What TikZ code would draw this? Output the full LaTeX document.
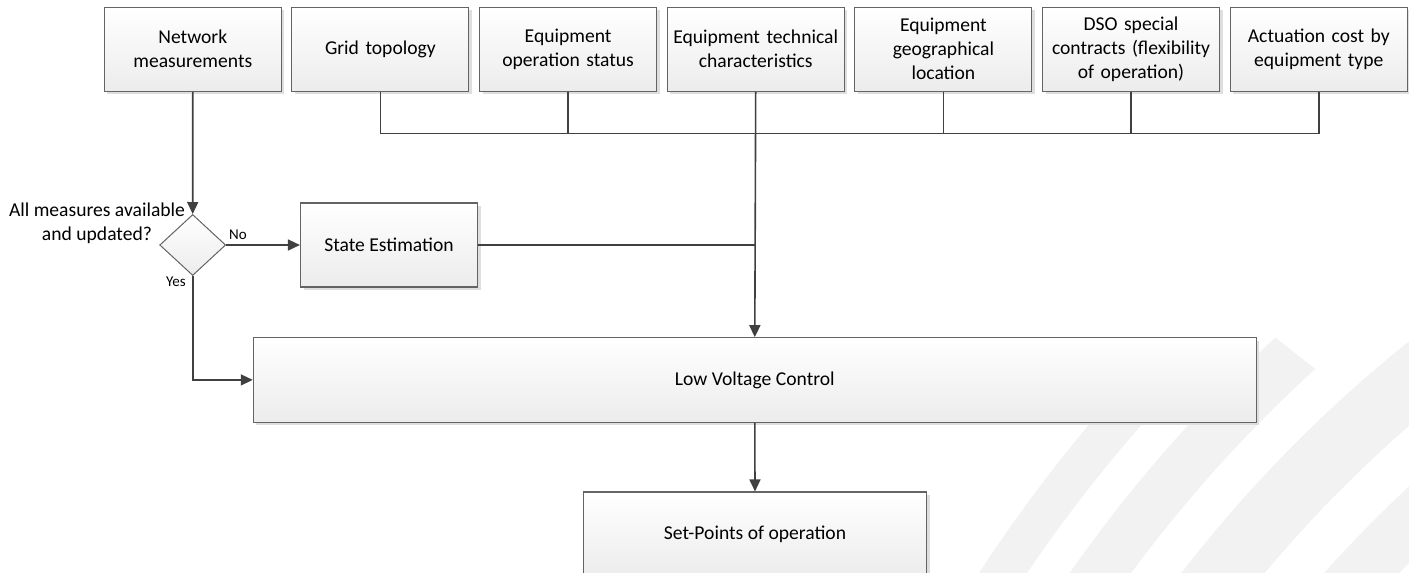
\documentclass[tikz,border=0pt]{standalone}
\usepackage{fontspec}
\setmainfont{Carlito}
\usetikzlibrary{arrows.meta,shapes.geometric,shadows}

\definecolor{edge}{RGB}{100,100,100}
\definecolor{wire}{RGB}{64,64,64}
\definecolor{arcgrey}{RGB}{242,242,242}
\definecolor{shade}{RGB}{236,236,236}
\definecolor{drop}{RGB}{222,222,222}

\tikzset{
  blockbox/.style={rectangle, draw=edge, line width=1.1pt,
    top color=white, bottom color=shade,
    drop shadow={shadow xshift=3pt, shadow yshift=-3pt, fill=drop, opacity=1},
    align=center, inner sep=2pt, font=\fontsize{19.6}{24}\selectfont},
  topbox/.style={blockbox, minimum width=177pt, minimum height=84pt, text width=173pt},
  decision/.style={diamond, draw=edge, line width=1pt, top color=white, bottom color=shade,
    inner sep=0pt, minimum width=66pt, minimum height=61pt},
  wirestyle/.style={draw=wire, line width=1.6pt},
  flow/.style={wirestyle, -{Triangle[length=12pt,width=11pt]}},
  answer/.style={font=\fontsize{15}{18}\selectfont, inner sep=0pt},
  arcband/.style={fill=arcgrey, even odd rule},
}

\begin{document}
\begin{tikzpicture}[x=1pt, y=-1pt]
\useasboundingbox (0,0) rectangle (1409,573);
\clip (0,0) rectangle (1409,573);

% faint background arcs (common centre far to the lower right)
\coordinate (arcc) at (2262,1407);
\begin{scope}
  \clip (1028,260) -- (1332,500) -- (1332,600) -- (850,600) -- (850,260) -- cycle;
  \fill[arcband] (arcc) circle[radius=1530] (arcc) circle[radius=1490];
\end{scope}
\begin{scope}
  \clip (1167,252) -- (1433,462) -- (1433,600) -- (900,600) -- (900,252) -- cycle;
  \fill[arcband] (arcc) circle[radius=1455] (arcc) circle[radius=1405];
\end{scope}
\fill[arcband] (arcc) circle[radius=1365] (arcc) circle[radius=1300];
\fill[arcband] (arcc) circle[radius=1255] (arcc) circle[radius=1200];

% input boxes
\node[topbox] (nm)  at (192.8,49.2)  {Network\\measurements};
\node[topbox] (gt)  at (380.4,49.2)  {Grid topology};
\node[topbox] (eos) at (568.1,49.2)  {Equipment\\operation status};
\node[topbox] (etc) at (755.7,49.2)  {Equipment technical\\characteristics};
\node[topbox] (egl) at (943.4,49.2)  {Equipment\\geographical\\location};
\node[topbox] (dso) at (1131.0,49.2) {DSO special\\contracts (flexibility\\of operation)};
\node[topbox] (act) at (1318.8,49.2) {Actuation cost by\\equipment type};

% decision and processing
\node[decision] (dec) at (192.7,245) {};
\node[font=\fontsize{19.6}{23.5}\selectfont, align=center, inner sep=0pt] (q) at (97,223.5)
  {All measures available\\and updated?};
\node[blockbox, minimum width=177pt, minimum height=84pt] (se) at (389,245) {State Estimation};
\node[blockbox, minimum width=1003pt, minimum height=84.3pt] (lvc) at (754.8,379.9) {Low Voltage Control};
\node[blockbox, minimum width=343.4pt, minimum height=84pt] (sp) at (755,534) {Set-Points of operation};

% collecting bus
\coordinate (busL) at (gt.south |- 0,133.3);
\coordinate (busR) at (act.south |- 0,133.3);
\draw[wirestyle] (gt.south) -- (busL) -- (busR) -- (act.south);
\draw[wirestyle] (eos.south) -- (eos.south |- busL);
\draw[wirestyle] (egl.south) -- (egl.south |- busL);
\draw[wirestyle] (dso.south) -- (dso.south |- busL);
\draw[flow] (etc.south) -- (lvc.north);

% measurement path
\draw[flow] (nm.south) -- (dec.north);
\draw[flow] (dec.east) -- node[answer, pos=0.16, above=5pt] (no) {No} (se.west);
\draw[flow] (dec.south) |- (lvc.west);
\node[answer, anchor=east] (yes) at (186,282) {Yes};
\draw[wirestyle] (se.east) -- (se.east -| lvc.north);

% output
\draw[flow] (lvc.south) -- (sp.north);
\end{tikzpicture}
\end{document}
